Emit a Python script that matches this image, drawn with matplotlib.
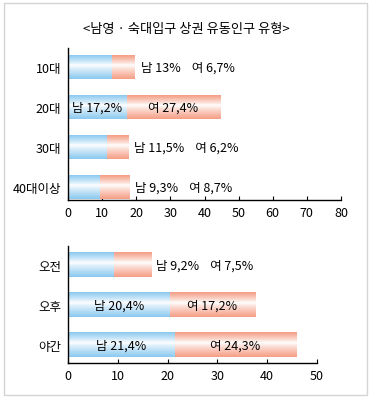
import numpy as np
import matplotlib
matplotlib.use("Agg")
import matplotlib.pyplot as plt
from matplotlib.patches import Rectangle

plt.rcParams['font.family'] = ['Noto Sans CJK KR', 'DejaVu Sans']

title = "<남영 · 숙대입구 상권 유동인구 유형>"

# 연령대별
age_labels = ["10대", "20대", "30대", "40대이상"]
age_male = [13, 17.2, 11.5, 9.3]
age_female = [6.7, 27.4, 6.2, 8.7]

# 시간대별
time_labels = ["오전", "오후", "야간"]
time_male = [9.2, 20.4, 21.4]
time_female = [7.5, 17.2, 24.3]

W, H = 369, 402
fig = plt.figure(figsize=(W / 100, H / 100), dpi=100)

blue = np.array([0.55, 0.79, 0.94])
salmon = np.array([0.96, 0.62, 0.52])
FS = 9


def grad(color, n=64, peak=0.42):
    t = np.linspace(0, 1, n)
    w = np.where(t < peak, (peak - t) / peak, (t - peak) / (1 - peak))
    w = np.clip(w, 0, 1) ** 0.85
    img = 1 - (1 - color)[None, :] * w[:, None]
    return img[:, None, :]


def fmt(v):
    return f"{v:g}".replace('.', ',')


def px_axes(x0, y0, x1, y1):
    return fig.add_axes([x0 / W, 1 - y1 / H, (x1 - x0) / W, (y1 - y0) / H])


def draw(ax, labels, male, female, xmax, ylim):
    h = 0.6
    for i, (m, f) in enumerate(zip(male, female)):
        ax.imshow(grad(blue), extent=(0, m, i + h / 2, i - h / 2),
                  aspect='auto', origin='upper', zorder=2)
        ax.imshow(grad(salmon), extent=(m, m + f, i + h / 2, i - h / 2),
                  aspect='auto', origin='upper', zorder=2)
        if m > 15:
            ax.text(m / 2, i, f"남 {fmt(m)}%", ha='center', va='center',
                    fontsize=FS, zorder=3)
            ax.text(m + f / 2, i, f"여 {fmt(f)}%", ha='center', va='center',
                    fontsize=FS, zorder=3)
        else:
            ax.text(m + f + xmax * 0.02, i, f"남 {fmt(m)}%    여 {fmt(f)}%",
                    ha='left', va='center', fontsize=FS, zorder=3)
    ax.set_xlim(0, xmax)
    ax.set_ylim(*ylim)
    ax.set_yticks(range(len(labels)))
    ax.set_yticklabels(labels, fontsize=FS)
    ax.set_xticks(range(0, xmax + 1, 10))
    ax.tick_params(axis='x', direction='in', length=3, labelsize=FS, pad=4)
    ax.tick_params(axis='y', length=0, pad=5)
    for s in ['top', 'right']:
        ax.spines[s].set_visible(False)
    for s in ['left', 'bottom']:
        ax.spines[s].set_linewidth(1)
    ax.set_facecolor('none')


ax1 = px_axes(68, 49, 341, 201)
draw(ax1, age_labels, age_male, age_female, 80, (3.33, -0.47))

ax2 = px_axes(68, 247, 317, 364)
draw(ax2, time_labels, time_male, time_female, 50, (2.45, -0.47))

fig.text(186 / W, 1 - 29 / H, title, ha='center', va='center', fontsize=9.5)

fig.patches.append(Rectangle((3.5 / W, 1 - 396 / H), 363 / W, 392.5 / H,
                             transform=fig.transFigure, fill=False,
                             edgecolor='#d4d4d4', linewidth=1))

fig.savefig("out.png", dpi=100)
